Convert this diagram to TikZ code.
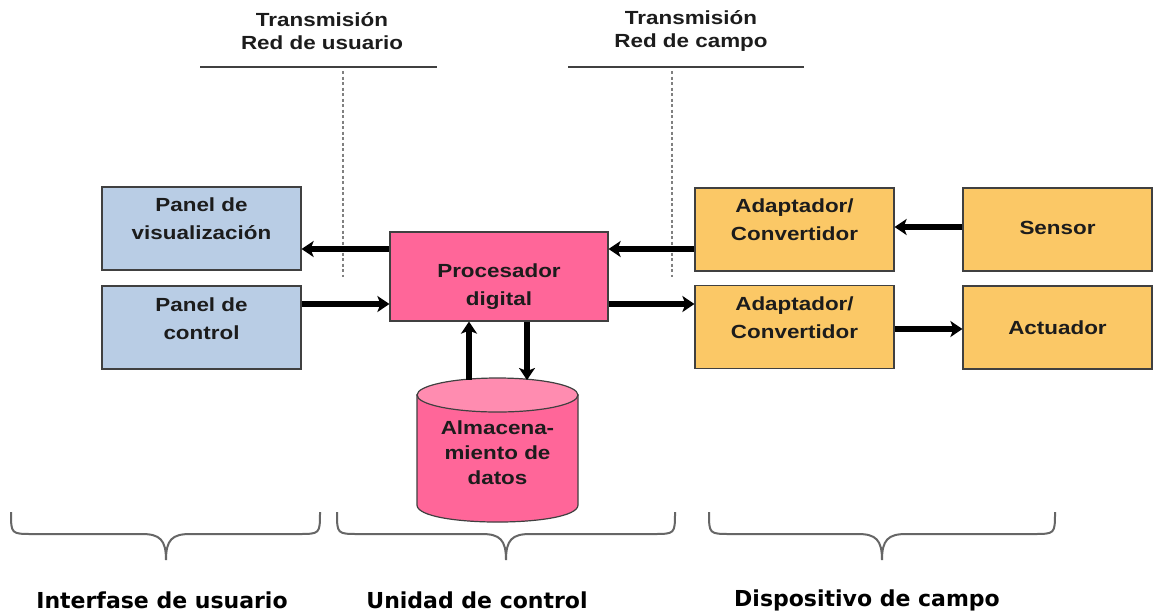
\documentclass[tikz,border=0pt]{standalone}
\usepackage{fontspec}
\setmainfont{Liberation Sans}
\newfontfamily\boxf[FakeStretch=1.18]{Liberation Sans}
\newfontfamily\bottomf{DejaVu Sans}
\usetikzlibrary{arrows.meta}
\definecolor{bluec}{HTML}{B9CDE5}
\definecolor{orc}{HTML}{FBC866}
\definecolor{pinkc}{HTML}{FF6699}
\definecolor{pinktop}{HTML}{FF8CB0}
\definecolor{bordc}{HTML}{404040}
\definecolor{txtc}{HTML}{1C1C1C}
\definecolor{bracec}{HTML}{666666}
\begin{document}
\begin{tikzpicture}[x=1pt,y=-1pt,
  box/.style={draw=bordc, line width=1.2pt, inner sep=0pt},
  blueb/.style={box, fill=bluec, minimum width=199pt, minimum height=83pt},
  orb/.style={box, fill=orc, minimum width=199pt, minimum height=83pt},
  orsmall/.style={box, fill=orc, minimum width=189pt, minimum height=83pt},
  lbl/.style={align=center, text=txtc, font=\boxf\bfseries\fontsize{19}{28}\selectfont},
  toplbl/.style={align=center, text=txtc, font=\boxf\bfseries\fontsize{19}{23}\selectfont},
  botlbl/.style={text=black, font=\bottomf\bfseries\fontsize{22}{26}\selectfont},
  arr/.style={line width=6.5pt, -{Stealth[length=12pt,width=16pt,inset=3pt]}},
  topline/.style={draw=bordc, line width=1.2pt},
  dashline/.style={draw=gray, line width=1.5pt, dash pattern=on 3pt off 2.5pt},
  bracestyle/.style={draw=bracec, line width=2pt}]
\fill[white] (0,0) rectangle (1154,614);
\useasboundingbox (0,0) rectangle (1154,614);

% top labels
\node[toplbl] (tlab1) at (322,31) {Transmisión\\Red de usuario};
\node[toplbl] (tlab2) at (691,31) {Transmisión\\Red de campo};
\draw[topline] (200,67) -- (437,67);
\draw[topline] (568,67) -- (804,67);
\draw[dashline] (343,71) -- (343,277);
\draw[dashline] (672,71) -- (672,277);

% boxes
\node[blueb] (vis) at (201.5,228.5) {};
\node[blueb] (ctl) at (201.5,327.5) {};
\node[box, fill=pinkc, minimum width=218pt, minimum height=89pt] (proc) at (499,276.5) {};
\node[orb] (ad1) at (794.5,229.5) {};
\node[orb] (ad2) at (794.5,327) {};
\node[orsmall] (sensor) at (1057.5,229.5) {};
\node[orsmall] (act) at (1057.5,327.5) {};

\node[lbl] (visT) at ([yshift=9.5pt]vis.center) {Panel de\\visualización};
\node[lbl] (ctlT) at ([yshift=8.5pt]ctl.center) {Panel de\\control};
\node[lbl] (procT) at ([yshift=-10pt]proc.center) {Procesador\\digital};
\node[lbl] (ad1T) at ([yshift=9.5pt]ad1.center) {Adaptador/\\Convertidor};
\node[lbl] (ad2T) at ([yshift=9.5pt]ad2.center) {Adaptador/\\Convertidor};
\node[lbl] (sensorT) at ([yshift=1.5pt]sensor.center) {Sensor};
\node[lbl] (actT) at (act.center) {Actuador};

% cylinder
\path[draw=bordc, fill=pinkc, line width=1.2pt] (417,395) -- (417,505) .. controls (417,527.7) and (578,527.7) .. (578,505) -- (578,395) -- cycle;
\draw[draw=bordc, fill=pinktop, line width=1.2pt] (497.5,395) ellipse [x radius=80.5, y radius=17];
\node[lbl, font=\boxf\bfseries\fontsize{19}{25}\selectfont] (db) at (497.5,453) {Almacena-\\miento de\\datos};
\coordinate (dbup) at (469,380);
\coordinate (dbdn) at (527,380);

% arrows
\coordinate (yA) at (0,249);
\coordinate (yB) at (0,304);
\draw[arr] (proc.west |- yA) -- (vis.east |- yA);
\draw[arr] (ctl.east |- yB) -- (proc.west |- yB);
\draw[arr] (ad1.west |- yA) -- (proc.east |- yA);
\draw[arr] (proc.east |- yB) -- (ad2.west |- yB);
\draw[arr] (sensor.west |- 0,227) -- (ad1.east |- 0,227);
\draw[arr] (ad2.east |- 0,329) -- (act.west |- 0,329);
\draw[arr] (dbup) -- (dbup |- proc.south);
\draw[arr] (dbdn |- proc.south) -- (dbdn);

% braces
\draw[bracestyle] (11,512) .. controls (11,534) and (11,534) .. (33,534) -- (142,534) .. controls (160,534) and (166,540) .. (166,560) .. controls (166,540) and (172,534) .. (190,534) -- (298,534) .. controls (320,534) and (320,534) .. (320,512);
\draw[bracestyle] (337,512) .. controls (337,534) and (337,534) .. (359,534) -- (482,534) .. controls (500,534) and (506,540) .. (506,560) .. controls (506,540) and (512,534) .. (530,534) -- (653,534) .. controls (675,534) and (675,534) .. (675,512);
\draw[bracestyle] (709,512) .. controls (709,534) and (709,534) .. (731,534) -- (858,534) .. controls (876,534) and (882,540) .. (882,560) .. controls (882,540) and (888,534) .. (906,534) -- (1033,534) .. controls (1055,534) and (1055,534) .. (1055,512);

% bottom labels
\node[botlbl] (b1) at (162,600) {Interfase de usuario};
\node[botlbl] (b2) at (477,600) {Unidad de control};
\node[botlbl] (b3) at (867,600) {Dispositivo de campo};
\end{tikzpicture}
\end{document}
